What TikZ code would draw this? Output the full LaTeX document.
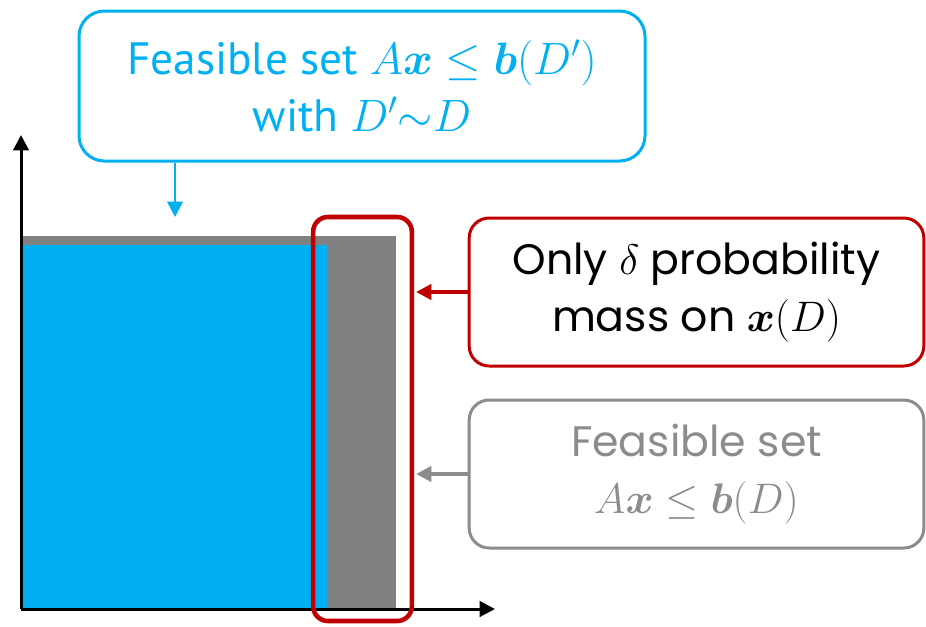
\RequirePackage{fix-cm}
\documentclass[tikz,border=0pt]{standalone}
\usepackage{amsmath, amssymb}
\usepackage{bm}
\usepackage{fontspec}
\setmainfont{Poppins}
\newfontfamily\narrowfont{PT Sans}
\usetikzlibrary{shapes, arrows.meta, positioning}
\definecolor{SkyBlue}{HTML}{00B0F0}
\definecolor{DarkRed}{HTML}{C00000}
\definecolor{MidGray}{HTML}{808080}
\definecolor{BoxGray}{HTML}{8C8C8C}

\tikzset{
  callout/.style={draw, rounded corners=15pt, line width=2.25pt, minimum width=341pt,
    minimum height=111pt, align=center, inner sep=0pt, font=\fontsize{32}{43}\selectfont},
}

\begin{document}
\begin{tikzpicture}[x=0.75pt, y=-0.75pt, >={Triangle[length=11.5pt,width=11.5pt]}]
        \useasboundingbox (0,0) rectangle (926,626);
        % Miền khả thi
        \fill[MidGray] (21,236) rectangle (396,609);
        \fill[SkyBlue] (21,245) rectangle (328,609);
        % Trục
        \coordinate (O) at (21,609);
        \draw[->, line width=2.25pt] (O) -- (21,135);
        \draw[->, line width=2.25pt] (O) -- (495,609);
        % Dải biên
        \node[draw=DarkRed, line width=3.4pt, rounded corners=11pt, minimum width=74pt,
          minimum height=303pt, inner sep=0pt] (band) at (362.5,419) {};
        % Chú thích
        \node[callout, draw=SkyBlue, text=SkyBlue, minimum width=424.5pt, minimum height=112.5pt,
          rounded corners=19pt, font=\narrowfont\fontsize{34}{43}\selectfont] (shifted) at (362,86)
          {Feasible set $A\bm{x}\le\bm{b}(D')$\\with $D'{\sim}D$};
        \node[callout, draw=DarkRed] (mass) at (696.5,292) {Only $\delta$ probability\\mass on $\bm{x}(D)$};
        \node[callout, draw=BoxGray, text=BoxGray] (orig) at (696.5,474) {Feasible set\\$A\bm{x}\le\bm{b}(D)$};
        % Mũi tên
        \coordinate (drop) at (175,217);
        \draw[->, SkyBlue, line width=1.8pt] (shifted.south -| drop) -- (drop);
        \draw[->, DarkRed, line width=2.6pt, shorten >=1.5pt] (mass.west) -- (mass.west -| band.east);
        \draw[->, BoxGray, line width=2.6pt, shorten >=1.5pt] (orig.west) -- (orig.west -| band.east);
      \end{tikzpicture}
\end{document}
